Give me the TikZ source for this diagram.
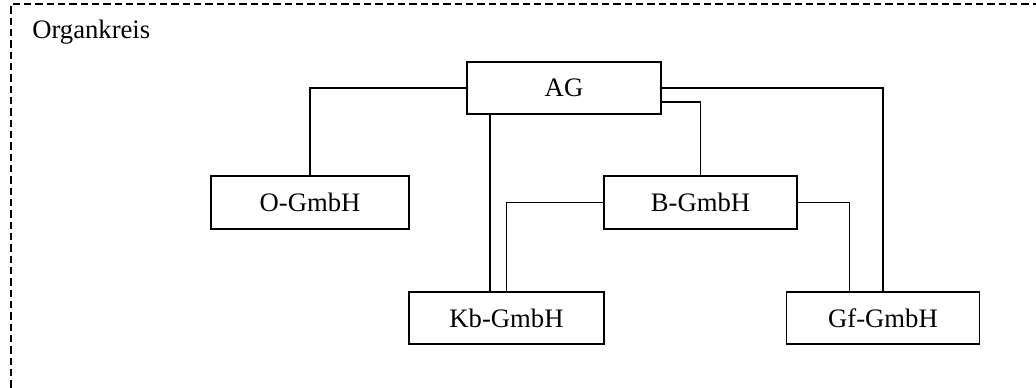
\documentclass[tikz,border=0pt]{standalone}
\usepackage{fontspec}
\setmainfont{Liberation Serif}
\usetikzlibrary{calc}
\begin{document}
\begin{tikzpicture}[x=0.75pt,y=-0.75pt,
  box/.style={draw,line width=0.8pt,inner sep=0pt,font=\fontsize{20}{24}\selectfont},
  conn/.style={line width=0.9pt},
  frame/.style={line width=0.8pt,dash pattern=on 5.5pt off 3pt}]
\useasboundingbox (0,0) rectangle (1036,387);
\draw[frame] (1040,4) -- (11,4) -- (11,390);
\node[anchor=base west,inner sep=0pt,font=\fontsize{20}{24}\selectfont] (title) at (32,38) {Organkreis};
\node[box,minimum width=194*0.75pt,minimum height=52*0.75pt] (AG) at (564,88) {AG};
\node[box,minimum width=198*0.75pt,minimum height=53*0.75pt] (O) at (310,202.5) {O-GmbH};
\node[box,minimum width=193*0.75pt,minimum height=53*0.75pt] (B) at (700.5,202.5) {B-GmbH};
\node[box,minimum width=195*0.75pt,minimum height=52*0.75pt] (Kb) at (506.5,318) {Kb-GmbH};
\node[box,minimum width=193*0.75pt,minimum height=52*0.75pt] (Gf) at (883,318) {Gf-GmbH};
% AG -> O
\draw[conn] (AG.west) -| (O.north);
% AG -> Kb
\coordinate (agkb) at ($(AG.south west)+(23.5,0)$);
\draw[conn] (agkb) -- (agkb |- Kb.north);
% B -> Kb
\draw[conn] (B.west) -| (Kb.north);
% AG -> B
\coordinate (agb) at ($(AG.east)+(0,14)$);
\draw[conn] (agb) -| (B.north);
% AG -> Gf
\draw[conn] (AG.east) -| (Gf.north);
% B -> Gf
\coordinate (bgf) at ($(Gf.north)+(-33.5,0)$);
\draw[conn] (B.east) -| (bgf);
\end{tikzpicture}
\end{document}
